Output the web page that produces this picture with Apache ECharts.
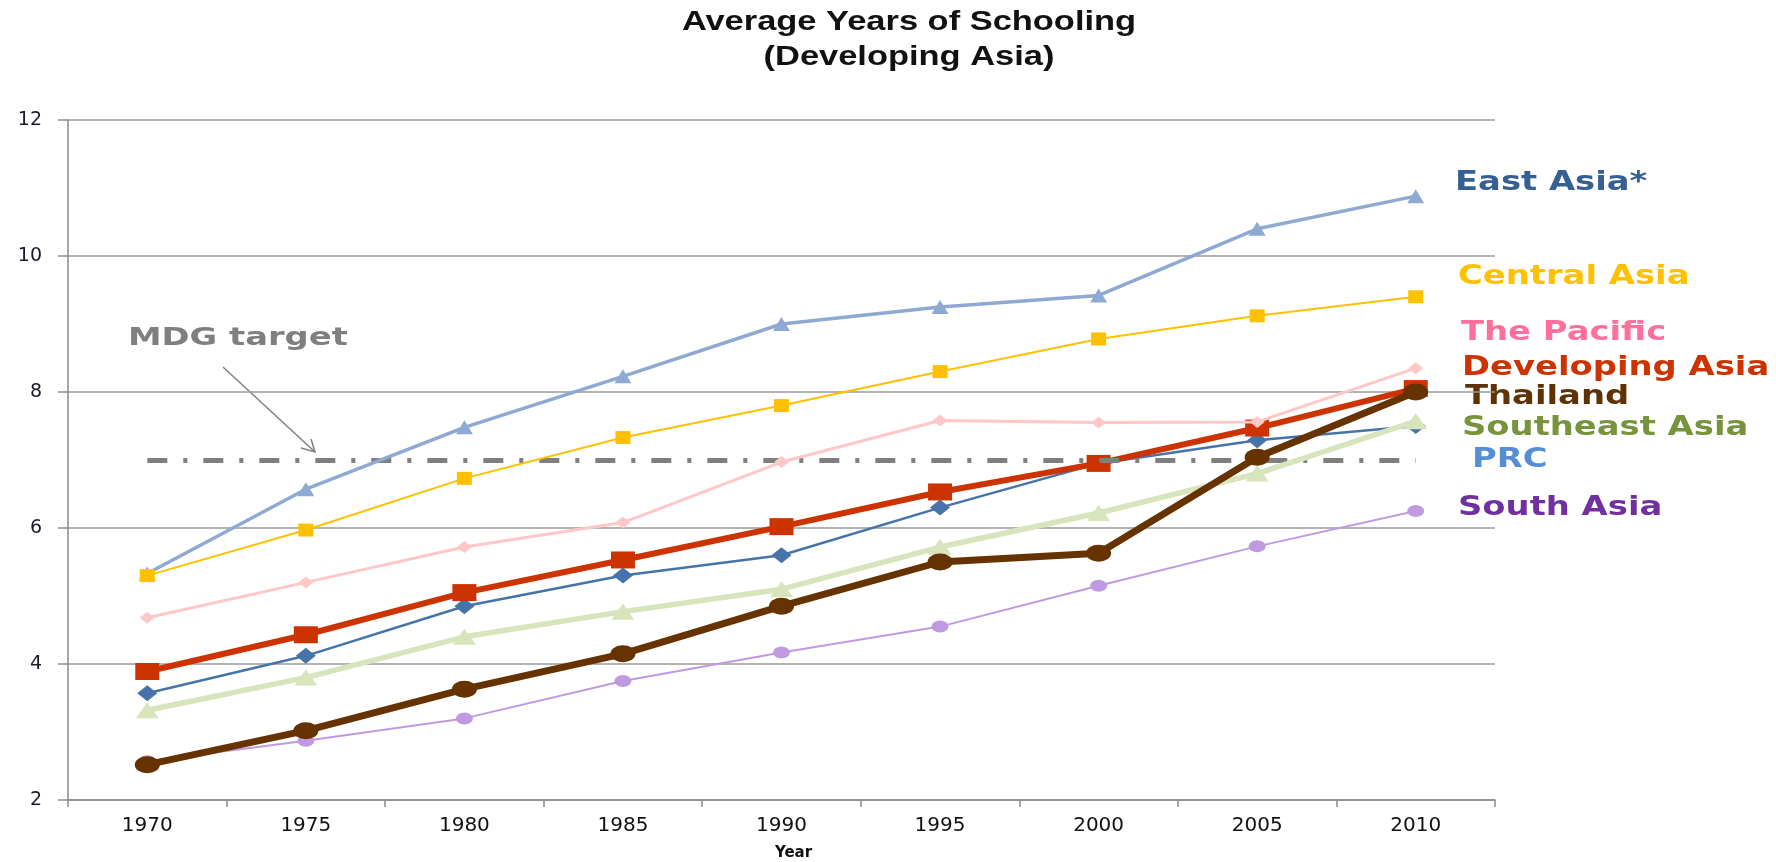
<!DOCTYPE html>
<html>
<head>
<meta charset="utf-8">
<title>Average Years of Schooling (Developing Asia)</title>
<script src="https://cdn.jsdelivr.net/npm/echarts@6/dist/echarts.min.js"></script>
<style>
  html, body { margin: 0; padding: 0; background: #ffffff; }
  #chart { width: 1776px; height: 862px; }
</style>
</head>
<body>
<div id="chart"></div>
<script>
// Survey years on the category axis
const years = ['1970', '1975', '1980', '1985', '1990', '1995', '2000', '2005', '2010'];

// Average years of schooling by region
const eastAsia       = [5.33, 6.57, 7.48, 8.23, 9.00, 9.25, 9.42, 10.40, 10.88];
const centralAsia    = [5.30, 5.97, 6.73, 7.33, 7.80, 8.30, 8.78, 9.12, 9.40];
const thePacific     = [4.68, 5.20, 5.72, 6.08, 6.97, 7.58, 7.55, 7.56, 8.35];
const developingAsia = [3.89, 4.43, 5.05, 5.53, 6.02, 6.53, 6.95, 7.47, 8.05];
const prc            = [3.57, 4.12, 4.85, 5.30, 5.60, 6.30, 6.95, 7.29, 7.50];
const southeastAsia  = [3.32, 3.80, 4.40, 4.77, 5.10, 5.72, 6.22, 6.80, 7.57];
const thailand       = [2.52, 3.02, 3.63, 4.15, 4.85, 5.50, 5.63, 7.04, 8.00];
const southAsia      = [2.57, 2.87, 3.20, 3.75, 4.17, 4.55, 5.15, 5.73, 6.25];

// Millennium Development Goal target (years of schooling)
const mdgTarget = 7;

// Y-axis range and step
const yMin = 2, yMax = 12, yStep = 2;

const chart = echarts.init(document.getElementById('chart'));

function lineSeries(name, data, color, width, symbol, size, z) {
  return {
    name: name,
    type: 'line',
    data: data,
    z: z,
    symbol: symbol,
    symbolSize: size,
    showSymbol: true,
    lineStyle: { color: color, width: width },
    itemStyle: { color: color, borderWidth: 0 },
    emphasis: { disabled: true }
  };
}

const prcSeries = lineSeries('PRC', prc, '#4673a9', 2.5, 'diamond', [20, 16], 3);
prcSeries.markLine = {
  silent: true,
  symbol: ['none', 'none'],
  label: { show: false },
  lineStyle: { color: '#7f7f7f', width: 5, type: [20, 16, 4, 16], cap: 'butt' },
  data: [[{ coord: [years[0], mdgTarget] }, { coord: [years[years.length - 1], mdgTarget] }]]
};

const series = [
  prcSeries,
  lineSeries('Developing Asia', developingAsia, '#cc3300', 6, 'rect', [24, 17], 4),
  lineSeries('The Pacific', thePacific, '#ffc7c7', 3, 'diamond', [15, 12], 5),
  lineSeries('East Asia*', eastAsia, '#8ea9d2', 3.5, 'triangle', [17, 14], 6),
  lineSeries('Central Asia', centralAsia, '#ffc000', 2, 'rect', [15, 13], 7),
  lineSeries('Southeast Asia', southeastAsia, '#d7e4bc', 5.5, 'triangle', [23, 16], 8),
  lineSeries('South Asia', southAsia, '#c09ae0', 2, 'circle', [17, 12], 9),
  lineSeries('Thailand', thailand, '#663300', 7, 'circle', [25, 17], 10)
];

// Region names written beside the line ends
const labelFont = 'bold 26px "DejaVu Sans", Verdana, sans-serif';
const regionLabels = [
  { text: 'East Asia*',      color: '#366092', x: 1455, y: 183 },
  { text: 'Central Asia',    color: '#ffc000', x: 1458, y: 277 },
  { text: 'The Pacific',     color: '#ff6f9c', x: 1461, y: 333 },
  { text: 'Developing Asia', color: '#cc3300', x: 1462, y: 368 },
  { text: 'Thailand',        color: '#5f3205', x: 1465, y: 397 },
  { text: 'Southeast Asia',  color: '#77933c', x: 1462, y: 428 },
  { text: 'PRC',             color: '#558ed5', x: 1472, y: 460 },
  { text: 'South Asia',      color: '#7030a0', x: 1458, y: 508 }
];

const graphics = regionLabels.map(function (l) {
  return {
    type: 'text',
    x: l.x, y: l.y,
    scaleX: 1.3,
    silent: true,
    style: { text: l.text, fill: l.color, font: labelFont, align: 'left', verticalAlign: 'middle' }
  };
});

// Chart title
graphics.push({
  type: 'text',
  x: 909, y: 40,
  scaleX: 1.23,
  silent: true,
  style: {
    text: 'Average Years of Schooling\n(Developing Asia)',
    fill: '#111111',
    font: 'bold 28px "Liberation Sans", Arial, sans-serif',
    lineHeight: 35,
    align: 'center',
    verticalAlign: 'middle'
  }
});

// "MDG target" note with its arrow
graphics.push({
  type: 'text',
  x: 128, y: 338,
  scaleX: 1.35,
  silent: true,
  style: { text: 'MDG target', fill: '#7f7f7f', font: 'bold 25px "DejaVu Sans", Verdana, sans-serif', align: 'left', verticalAlign: 'middle' }
});
graphics.push({
  type: 'polyline', silent: true,
  shape: { points: [[223, 367], [315, 452]] },
  style: { stroke: '#808080', lineWidth: 1.5, fill: null }
});
graphics.push({
  type: 'polyline', silent: true,
  shape: { points: [[301, 448], [315, 452], [311, 439]] },
  style: { stroke: '#808080', lineWidth: 1.5, fill: null }
});

chart.setOption({
  animation: false,
  backgroundColor: '#ffffff',
  grid: { left: 68, right: 281, top: 120, bottom: 62, containLabel: false, outerBoundsMode: 'none' },
  xAxis: {
    type: 'category',
    data: years,
    boundaryGap: true,
    name: 'Year',
    nameLocation: 'middle',
    nameGap: 46,
    nameTextStyle: { fontFamily: '"DejaVu Sans", sans-serif', fontWeight: 'bold', fontSize: 15, color: '#111111', padding: [0, 0, 0, 24] },
    axisLine: { lineStyle: { color: '#8a8a8a', width: 1.5 } },
    axisTick: { show: true, interval: 0, length: 7, lineStyle: { color: '#8a8a8a', width: 1.5 } },
    axisLabel: { fontFamily: '"DejaVu Sans", sans-serif', fontSize: 20, color: '#111111', margin: 16 },
    splitLine: { show: false }
  },
  yAxis: {
    type: 'value',
    min: yMin, max: yMax, interval: yStep,
    axisLine: { show: true, lineStyle: { color: '#8a8a8a', width: 1.5 } },
    axisTick: { show: true, length: 10, lineStyle: { color: '#8a8a8a', width: 1.5 } },
    axisLabel: { fontFamily: '"DejaVu Sans", sans-serif', fontSize: 19, color: '#1a1a2a', margin: 26 },
    splitLine: { show: true, lineStyle: { color: '#9a9a9a', width: 1.5 } }
  },
  legend: { show: false },
  tooltip: { show: false },
  series: series,
  graphic: graphics
});
</script>
</body>
</html>
